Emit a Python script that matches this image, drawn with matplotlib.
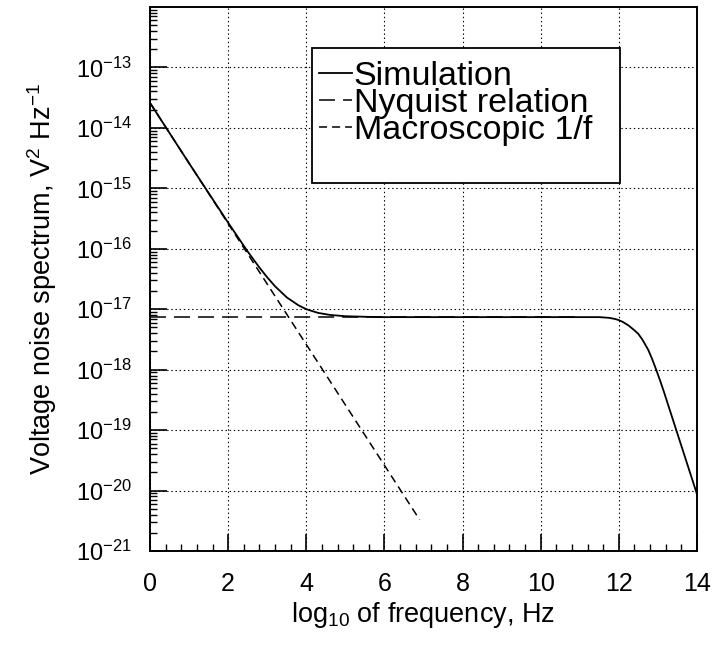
# Voltage noise spectrum vs log10 frequency
import matplotlib
matplotlib.use('Agg')
import matplotlib.pyplot as plt
from matplotlib.ticker import MultipleLocator, LogLocator, NullFormatter
from matplotlib.patches import Rectangle

plt.rcParams['font.family'] = ['Liberation Sans', 'DejaVu Sans']
plt.rcParams['mathtext.fontset'] = 'custom'
plt.rcParams['mathtext.rm'] = 'Liberation Sans'
plt.rcParams['mathtext.it'] = 'Liberation Sans:italic'
plt.rcParams['mathtext.default'] = 'regular'
plt.rcParams['lines.scale_dashes'] = False

# datos
sim_logf = [0, 1, 2, 2.5, 2.8, 3.0, 3.2, 3.5, 3.8, 4.0, 4.3, 4.6, 5.0, 5.5,
            6, 8, 10, 11.5, 11.75, 11.9, 12.0, 12.1, 12.25, 12.4, 12.5,
            12.6, 12.75, 12.85, 12.95, 13.05, 13.15, 13.25, 13.5, 13.75, 14.0]
sim_psd = [2.6e-14, 2.6e-15, 2.7e-16, 9.0e-17, 4.9e-17, 3.37e-17, 2.4e-17,
           1.57e-17, 1.16e-17, 1.0e-17, 8.7e-18, 8.06e-18, 7.66e-18, 7.5e-18,
           7.4e-18, 7.4e-18, 7.4e-18, 7.4e-18, 7.2e-18, 6.9e-18, 6.6e-18,
           6.17e-18, 5.37e-18, 4.47e-18, 3.89e-18, 3.16e-18, 2.14e-18,
           1.51e-18, 1.02e-18, 6.76e-19, 4.37e-19, 2.75e-19, 8.7e-20,
           2.75e-20, 8.7e-21]

nyq_logf = [0, 11]
nyq_psd = [7.4e-18, 7.4e-18]

macro_logf = [0, 6.9]
macro_psd = [2.6e-14, 3.3e-21]

x_ticks = [0, 2, 4, 6, 8, 10, 12, 14]
y_exps = [-21, -20, -19, -18, -17, -16, -15, -14, -13]

fig = plt.figure(figsize=(7.28, 6.45), dpi=100)
ax = fig.add_axes([150 / 728, 1 - 551 / 645, 547 / 728, 544 / 645])

ax.plot(sim_logf, sim_psd, color='black', lw=1.3, label='Simulation')
ax.plot(nyq_logf, nyq_psd, color='black', lw=1.1, dashes=(11.5, 5.8),
        label='Nyquist relation')
ax.plot(macro_logf, macro_psd, color='black', lw=1.1, dashes=(5.8, 3.6),
        label='Macroscopic 1/f')

ax.set_yscale('log')
ax.set_xlim(0, 14)
ax.set_ylim(1e-21, 1e-12)

ax.set_xticks(x_ticks)
ax.xaxis.set_minor_locator(MultipleLocator(0.4))
ax.set_yticks([10.0 ** e for e in y_exps])
ax.set_yticklabels(['$10^{%d}$' % e for e in y_exps])
ax.yaxis.set_minor_locator(LogLocator(base=10, subs=range(2, 10), numticks=20))
ax.yaxis.set_minor_formatter(NullFormatter())

ax.tick_params(which='both', direction='in', top=False, right=False)
ax.tick_params(which='major', length=12, width=1.2)
ax.tick_params(which='minor', length=5, width=1.0)
ax.tick_params(axis='y', which='major', labelsize=17, pad=13)
ax.tick_params(axis='x', which='major', labelsize=18, pad=15)

ax.grid(True, which='major', color='black', lw=0.8, linestyle=(0, (1, 2)))
for s in ax.spines.values():
    s.set_linewidth(1.4)

ax.set_xlabel('log$_{10}$ of frequency, Hz', fontsize=19.5, labelpad=3)
ax.set_ylabel('Voltage noise spectrum, V$^2$ Hz$^{-1}$', fontsize=19.5,
              labelpad=12)

# caja de la leyenda
box = Rectangle((311.7 / 728, 1 - 182.7 / 645), 308.3 / 728, 134.4 / 645,
                transform=fig.transFigure, facecolor='white',
                edgecolor='black', lw=1.3, zorder=5)
ax.add_patch(box)
leg = ax.legend(loc='upper left', bbox_to_anchor=(319 / 728, 1 - 61 / 645),
                bbox_transform=fig.transFigure, frameon=False, fontsize=24.5,
                handlelength=0.96, handletextpad=0.06, labelspacing=-0.12,
                borderpad=0, borderaxespad=0)
leg.set_zorder(6)

fig.savefig('out.png', dpi=100)
